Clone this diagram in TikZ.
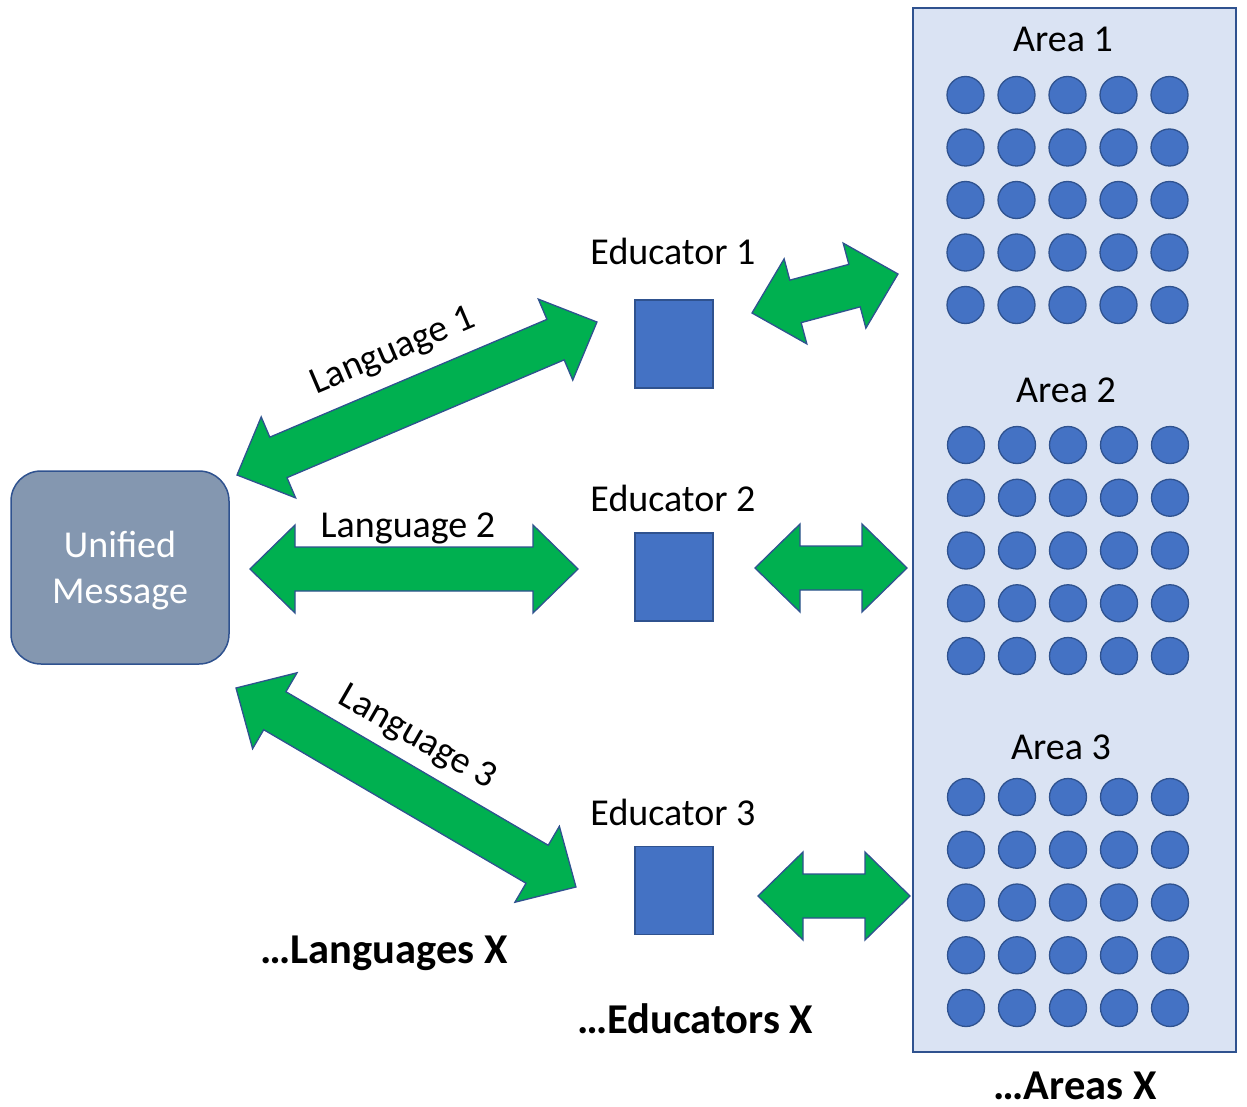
\documentclass[tikz,border=0pt]{standalone}
\usepackage{fontspec}
\setmainfont{Carlito}
\usetikzlibrary{calc}
\definecolor{edge}{HTML}{2F528F}
\definecolor{arrgreen}{HTML}{00B050}
\definecolor{blockblue}{HTML}{4472C4}
\definecolor{umsg}{HTML}{8497B0}
\definecolor{areabg}{HTML}{DAE3F3}
\newcommand{\dblarrow}[2]{%
  \path[draw=edge, fill=arrgreen, line width=1.3pt, line join=miter]
    let \p1=($(#2)-(#1)$), \n1={atan2(\y1,\x1)}, \n2={veclen(\x1,\y1)} in
    [shift={(#1)}, rotate=\n1]
    (0,0) -- (45,44) -- (45,22) -- (\n2-45,22) -- (\n2-45,44) -- (\n2,0)
    -- (\n2-45,-44) -- (\n2-45,-22) -- (45,-22) -- (45,-44) -- cycle;}
\tikzset{
  regfont/.style={font=\fontsize{38}{46}\selectfont},
  txt/.style={regfont, inner sep=0pt, anchor=base},
  boldtxt/.style={font=\fontsize{42.5}{50}\selectfont\bfseries, inner sep=0pt, anchor=base},
  edubox/.style={draw=edge, fill=blockblue, line width=1.3pt, minimum width=78pt, minimum height=88pt, inner sep=0pt},
  dotc/.style={circle, draw=edge, fill=blockblue, line width=1.3pt, minimum size=37pt, inner sep=0pt},
}
\begin{document}
\begin{tikzpicture}[x=1pt,y=-1pt]
\useasboundingbox (0,0) rectangle (1247,1107);
% area container
\node[draw=edge, fill=areabg, line width=1.5pt, minimum width=323pt, minimum height=1044pt, inner sep=0pt] (area) at (1074.5,530) {};
% unified message
\node[draw=edge, fill=umsg, line width=1.5pt, rounded corners=30pt, minimum width=218pt, minimum height=193pt, inner sep=0pt] (um) at (120,567.5) {};
\node[regfont, text=white, align=center, inner sep=0pt] (umt) at (120,571) {Unified\\Message};
% educators
\node[edubox] (e1) at (674,344) {};
\node[edubox] (e2) at (674,577) {};
\node[edubox] (e3) at (674,890.5) {};
\node[txt] (e1l) at (673,265) {Educator 1};
\node[txt] (e2l) at (673,511) {Educator 2};
\node[txt] (e3l) at (673,825) {Educator 3};
% areas
\node[txt] (a1l) at (1063,52) {Area 1};
\node[txt] (a2l) at (1066,402) {Area 2};
\node[txt] (a3l) at (1061,759) {Area 3};
\foreach \i in {0,...,4} {
  \foreach \j in {0,...,4} {
    \node[dotc] (d1-\i-\j) at (965.5+51*\i, 95+52.5*\j) {};
    \node[dotc] (d2-\i-\j) at (966+51*\i, 445+52.75*\j) {};
    \node[dotc] (d3-\i-\j) at (966+51*\i, 797+52.75*\j) {};
  }
}
% arrow end coordinates
\coordinate (l1a) at (237,475); \coordinate (l1b) at (597,322);
\coordinate (l2a) at (250,569); \coordinate (l2b) at (578,569);
\coordinate (l3a) at (236,688); \coordinate (l3b) at (576,887);
\coordinate (r1a) at (752,313); \coordinate (r1b) at (898,274);
\coordinate (r2a) at (755,568); \coordinate (r2b) at (907,568);
\coordinate (r3a) at (758,896); \coordinate (r3b) at (910,896);
\dblarrow{l1a}{l1b}
\dblarrow{l2a}{l2b}
\dblarrow{l3a}{l3b}
\dblarrow{r1a}{r1b}
\dblarrow{r2a}{r2b}
\dblarrow{r3a}{r3b}
% language labels
\node[regfont, inner sep=0pt, rotate=23] (lg1) at (393,352) {Language 1};
\node[txt] (lg2) at (408,537) {Language 2};
\node[regfont, inner sep=0pt, rotate=-30] (lg3) at (417,738) {Language 3};
% bold footers
\node[boldtxt] (lx) at (384,963) {…Languages X};
\node[boldtxt] (ex) at (695,1033) {…Educators X};
\node[boldtxt] (ax) at (1075,1099) {…Areas X};
\end{tikzpicture}
\end{document}
